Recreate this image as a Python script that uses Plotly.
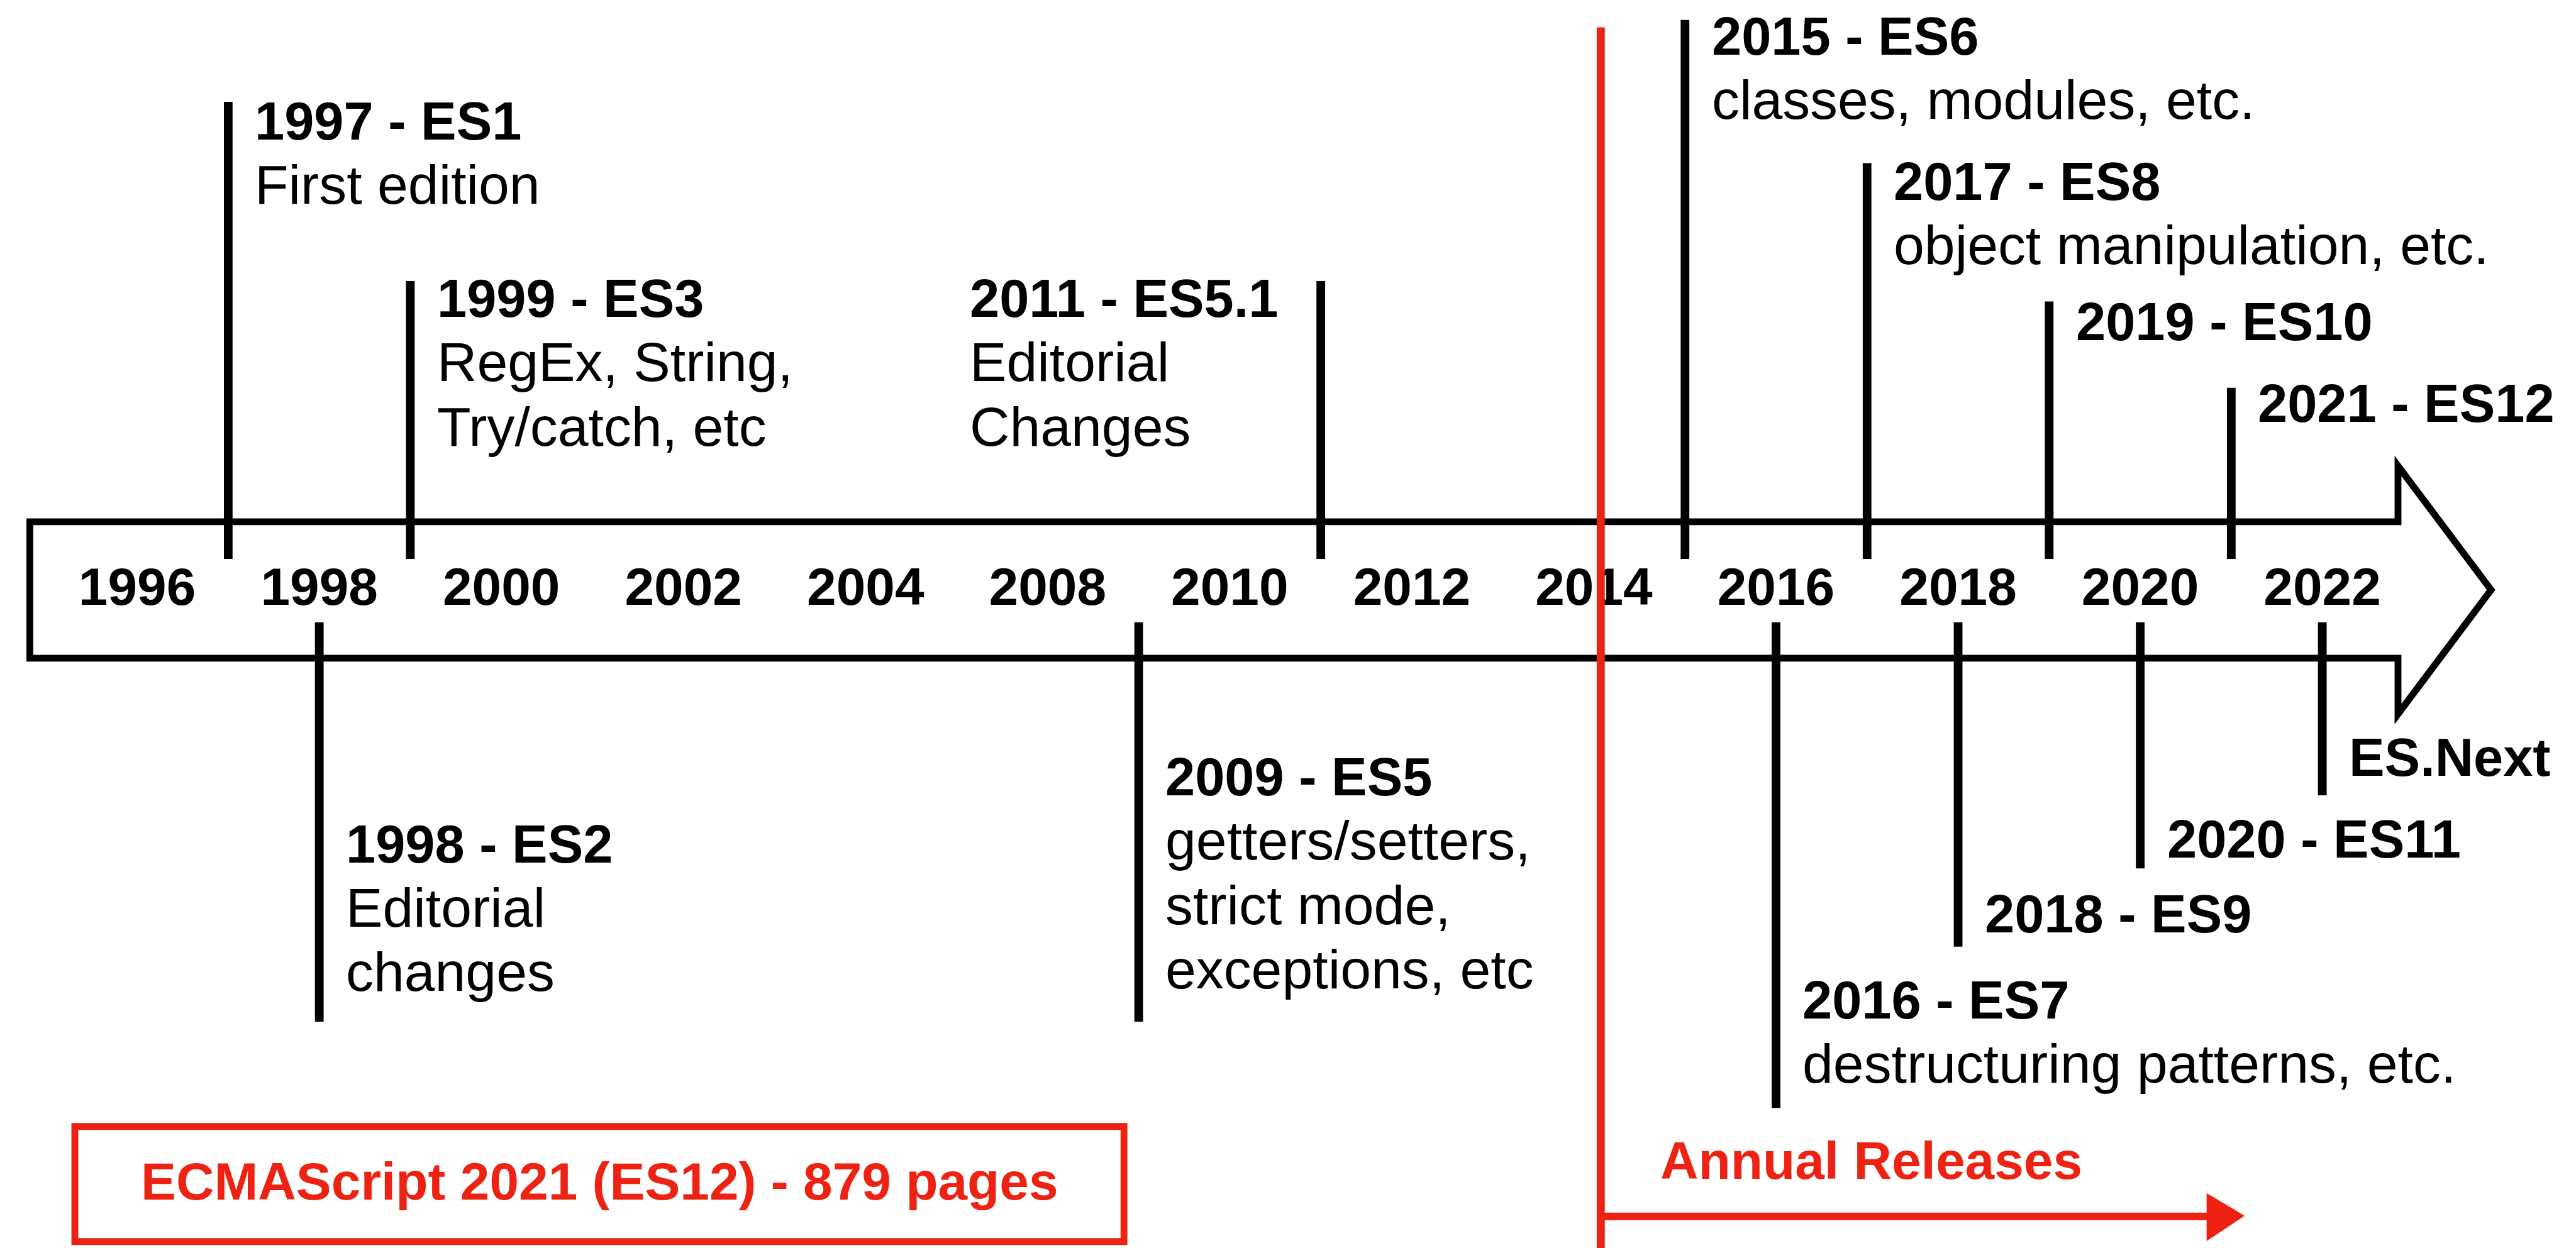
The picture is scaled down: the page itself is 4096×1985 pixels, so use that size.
import numpy as np
import plotly.graph_objects as go

# ---------------- data ----------------
tick_years = [1996, 1998, 2000, 2002, 2004, 2008, 2010, 2012, 2014, 2016, 2018, 2020, 2022]
tick_labels = [str(y) for y in tick_years]

event_years = [1997, 1998, 1999, 2009, 2011, 2015, 2016, 2017, 2018, 2019, 2020, 2021, 2022]
event_titles = ["1997 - ES1", "1998 - ES2", "1999 - ES3", "2009 - ES5", "2011 - ES5.1",
                "2015 - ES6", "2016 - ES7", "2017 - ES8", "2018 - ES9", "2019 - ES10",
                "2020 - ES11", "2021 - ES12", "ES.Next"]
event_notes = [["First edition"], ["Editorial", "changes"], ["RegEx, String,", "Try/catch, etc"],
               ["getters/setters,", "strict mode,", "exceptions, etc"], ["Editorial", "Changes"],
               ["classes, modules, etc."], ["destructuring patterns, etc."],
               ["object manipulation, etc."], [], [], [], [], []]

spec_note = "ECMAScript 2021 (ES12) - 879 pages"
annual_note = "Annual Releases"

# ---------------- layout (reference pixel units) ----------------
REF_W, REF_H = 4152, 2012
W, H = 4096, 1985
S = W / REF_W
TICK0_PX, TICK_STEP_PX = 213.0, 293.5

line_top = [156, 995, 445, 995, 445, 24, 995, 255, 995, 478, 995, 617, 995]
line_bottom = [893, 1639, 893, 1639, 893, 893, 1778, 893, 1518, 893, 1392, 893, 1274]
title_baseline = [224, 1389, 510, 1281, 510, 87, 1641, 321, 1502, 547, 1381, 679, 1250]
label_dx = [43, 43, 43, 43, -566, 43, 43, 43, 43, 43, 43, 43, 43]

FONT = "Liberation Sans, Arial, Helvetica, sans-serif"
BOLD_FS = 86
REG_FS = 89
LINE_GAP = 104
RED = "#ED2212"
Y_FIX = 7  # small upward correction of annotation text placement

tick_idx = np.arange(len(tick_years), dtype=float)
event_x = np.interp(event_years, tick_years, tick_idx)

x_range = [(0 - TICK0_PX) / TICK_STEP_PX, (REF_W - TICK0_PX) / TICK_STEP_PX]

def px(xr):
    return xr / REF_W

fig = go.Figure()

# event lines
lx, ly = [], []
for xi, t, b in zip(event_x, line_top, line_bottom):
    lx += [xi, xi, None]
    ly += [t, b, None]
fig.add_trace(go.Scatter(x=lx, y=ly, mode="lines",
                         line=dict(color="black", width=14 * S),
                         hoverinfo="skip", showlegend=False))

# year labels
fig.add_trace(go.Scatter(x=tick_idx, y=[945.5] * len(tick_idx), mode="text",
                         text=tick_labels, textposition="middle center",
                         textfont=dict(family=FONT, size=85 * S, color="black", weight="bold"),
                         hoverinfo="skip", showlegend=False))

annotations = []
def add_line(x, xref, baseline, text, fs, bold, xshift=0, color="black", xanchor="left"):
    annotations.append(dict(
        x=x, xref=xref, y=baseline - 0.3465 * fs - Y_FIX, yref="y",
        text=text, showarrow=False, xanchor=xanchor, yanchor="middle",
        xshift=xshift * S, borderpad=0, borderwidth=0,
        font=dict(family=FONT, size=fs * S, color=color, weight="bold" if bold else "normal"),
    ))

for xi, title, notes, base, dx in zip(event_x, event_titles, event_notes, title_baseline, label_dx):
    add_line(xi, "x", base, title, BOLD_FS, True, xshift=dx)
    for k, note in enumerate(notes):
        add_line(xi, "x", base + LINE_GAP * (k + 1), note, REG_FS, False, xshift=dx)

# red texts
add_line(px(958), "paper", 1933, spec_note, 85, True, color=RED, xanchor="center")
add_line(px(2668), "paper", 1899, annual_note, 85, True, color=RED)

shapes = []
# main arrow outline
pts = [(40, 833), (3857, 833), (3857, 743), (4007, 943), (3857, 1143), (3857, 1053), (40, 1053)]
path = "M " + " L ".join(f"{px(x):.6f},{y}" for x, y in pts) + " Z"
shapes.append(dict(type="path", xref="paper", yref="y", path=path,
                   line=dict(color="black", width=11 * S), fillcolor="rgba(0,0,0,0)", layer="below"))
# red vertical divider
shapes.append(dict(type="line", xref="paper", yref="y", x0=px(2572), x1=px(2572), y0=36, y1=2012,
                   line=dict(color=RED, width=13 * S)))
# red horizontal arrow shaft
shapes.append(dict(type="line", xref="paper", yref="y", x0=px(2566), x1=px(3560), y0=1953, y1=1953,
                   line=dict(color=RED, width=12 * S)))
# red arrow head
hp = [(3550, 1918), (3607, 1952), (3550, 1990)]
shapes.append(dict(type="path", xref="paper", yref="y",
                   path="M " + " L ".join(f"{px(x):.6f},{y}" for x, y in hp) + " Z",
                   line=dict(color=RED, width=3 * S), fillcolor=RED))
# red box
shapes.append(dict(type="rect", xref="paper", yref="y", x0=px(112.5), x1=px(1803.5), y0=1808, y1=1993.5,
                   line=dict(color=RED, width=11 * S), fillcolor="rgba(0,0,0,0)"))

fig.update_layout(
    width=W, height=H,
    margin=dict(l=0, r=0, t=0, b=0),
    paper_bgcolor="white", plot_bgcolor="white",
    showlegend=False,
    xaxis=dict(range=x_range, visible=False, showgrid=False, zeroline=False, fixedrange=True),
    yaxis=dict(range=[REF_H, 0], visible=False, showgrid=False, zeroline=False, fixedrange=True),
    annotations=annotations,
    shapes=shapes,
)

fig.write_html("out.html", config={"displayModeBar": False})
